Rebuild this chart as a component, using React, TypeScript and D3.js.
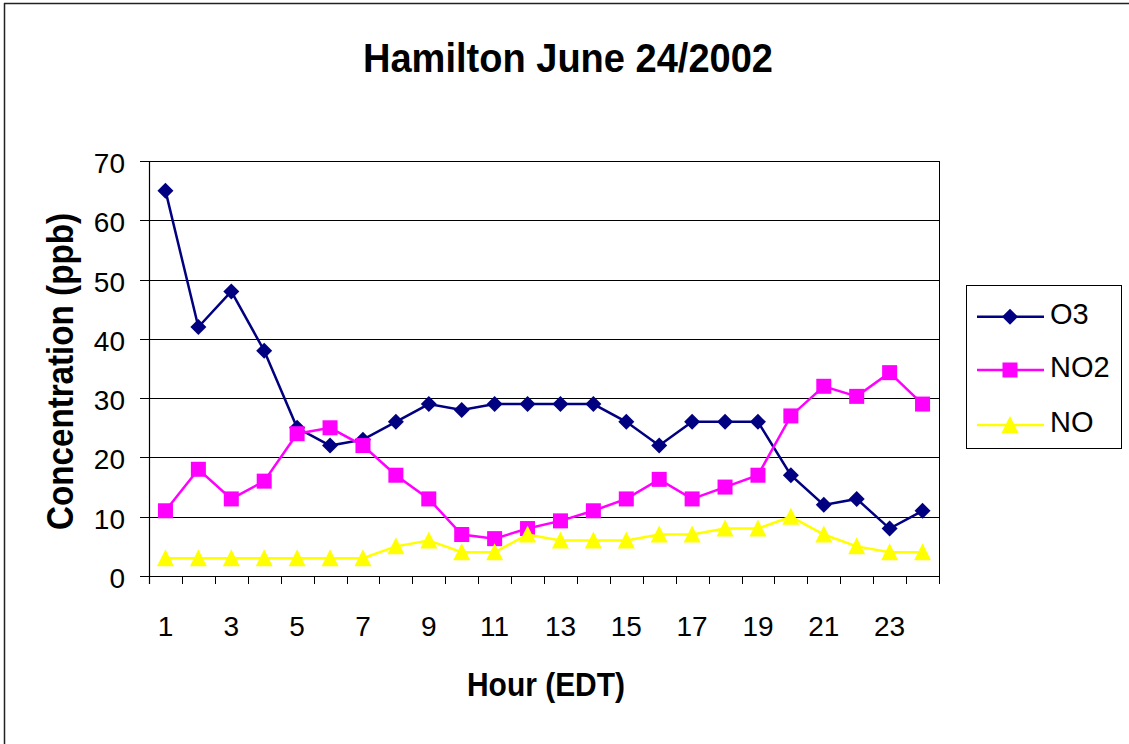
import React from "react";
import * as d3 from "d3";

const hours: number[] = Array.from({ length: 24 }, (_, i) => i + 1);
const o3: number[] = [65, 42, 48, 38, 25, 22, 23, 26, 29, 28, 29, 29, 29, 29, 26, 22, 26, 26, 26, 17, 12, 13, 8, 11];
const no2: number[] = [11, 18, 13, 16, 24, 25, 22, 17, 13, 7, 6.3, 8, 9.3, 11, 13, 16.3, 13, 15, 17, 27, 32, 30.3, 34.3, 29];
const no: number[] = [3, 3, 3, 3, 3, 3, 3, 5, 6, 4, 4, 7, 6, 6, 6, 7, 7, 8, 8, 10, 7, 5, 4, 4];
const yTicks: number[] = [0, 10, 20, 30, 40, 50, 60, 70];
const xTickLabels: number[] = [1, 3, 5, 7, 9, 11, 13, 15, 17, 19, 21, 23];

const seriesNames = ["O3", "NO2", "NO"];
const seriesColors = ["#000080", "#FF00FF", "#FFFF00"];

const W = 1129;
const H = 744;
const plot = { left: 149, right: 939, top: 161, bottom: 576 };

function Marker({ kind, x, y, color }: { kind: number; x: number; y: number; color: string }) {
  if (kind === 0) {
    const s = 8;
    return <path d={`M${x},${y - s}L${x + s},${y}L${x},${y + s}L${x - s},${y}Z`} fill={color} />;
  }
  if (kind === 1) {
    const s = 7.5;
    return <rect x={x - s} y={y - s} width={2 * s} height={2 * s} fill={color} />;
  }
  const w = 8.5;
  return <path d={`M${x},${y - 9}L${x + w},${y + 8}L${x - w},${y + 8}Z`} fill={color} />;
}

export default function App() {
  const x = d3.scaleBand<number>().domain(hours).range([plot.left, plot.right]).padding(0);
  const y = d3.scaleLinear().domain([0, 70]).range([plot.bottom, plot.top]);
  const cx = (h: number) => (x(h) as number) + x.bandwidth() / 2;
  const data = [o3, no2, no];
  const line = d3
    .line<[number, number]>()
    .x((d) => d[0])
    .y((d) => d[1]);

  const font = "'Liberation Sans', Arial, sans-serif";
  const r = (v: number) => Math.round(v) + 0.5;

  return (
    <svg
      width={W}
      height={H}
      style={{ position: "absolute", left: 0, top: 0, background: "#fff" }}
      fontFamily={font}
    >
      <rect x={0} y={0} width={W} height={H} fill="#fff" />
      {/* outer border */}
      <line x1={4.5} y1={3} x2={4.5} y2={H} stroke="#222" strokeWidth={1.5} />
      <line x1={4} y1={3.5} x2={W} y2={3.5} stroke="#222" strokeWidth={1.5} />

      {/* title */}
      <text x={568} y={72} textAnchor="middle" fontWeight="bold" fontSize={41} textLength={410} lengthAdjust="spacingAndGlyphs">
        Hamilton June 24/2002
      </text>

      {/* gridlines */}
      {yTicks.map((t) => (
        <line key={"g" + t} x1={plot.left} x2={plot.right} y1={r(y(t))} y2={r(y(t))} stroke="#000" strokeWidth={1} />
      ))}
      {/* plot border */}
      <line x1={r(plot.right)} x2={r(plot.right)} y1={plot.top} y2={plot.bottom + 8} stroke="#000" strokeWidth={1} />
      <line x1={r(plot.left)} x2={r(plot.left)} y1={plot.top} y2={plot.bottom + 8} stroke="#000" strokeWidth={1.2} />

      {/* y ticks & labels */}
      {yTicks.map((t) => (
        <g key={"yt" + t}>
          <line x1={plot.left - 9} x2={plot.left} y1={r(y(t))} y2={r(y(t))} stroke="#000" />
          <text x={125} y={y(t) + 12} textAnchor="end" fontSize={28}>
            {t}
          </text>
        </g>
      ))}

      {/* x ticks */}
      {hours.map((h) => (
        <line key={"xt" + h} x1={r(x(h) as number)} x2={r(x(h) as number)} y1={plot.bottom} y2={plot.bottom + 8} stroke="#000" />
      ))}
      {xTickLabels.map((h) => (
        <text key={"xl" + h} x={cx(h)} y={636} textAnchor="middle" fontSize={28}>
          {h}
        </text>
      ))}

      {/* axis titles */}
      <text x={546} y={696} textAnchor="middle" fontWeight="bold" fontSize={33} textLength={158} lengthAdjust="spacingAndGlyphs">
        Hour (EDT)
      </text>
      <text
        transform={`translate(73,371.5) rotate(-90)`}
        textAnchor="middle"
        fontWeight="bold"
        fontSize={37}
        textLength={317}
        lengthAdjust="spacingAndGlyphs"
      >
        Concentration (ppb)
      </text>

      {/* series */}
      {data.map((vals, si) => (
        <g key={"s" + si}>
          <path
            d={line(vals.map((v, i) => [cx(hours[i]), y(v)] as [number, number])) || ""}
            fill="none"
            stroke={seriesColors[si]}
            strokeWidth={2.5}
          />
          {vals.map((v, i) => (
            <Marker key={i} kind={si} x={cx(hours[i])} y={y(v)} color={seriesColors[si]} />
          ))}
        </g>
      ))}

      {/* legend */}
      <rect x={966.5} y={285.5} width={155} height={163} fill="#fff" stroke="#000" strokeWidth={1} />
      {seriesNames.map((name, i) => {
        const ly = [316.7, 370, 425][i];
        return (
          <g key={"lg" + i}>
            <line x1={977} x2={1044} y1={ly} y2={ly} stroke={seriesColors[i]} strokeWidth={2.5} />
            <Marker kind={i} x={1010} y={ly} color={seriesColors[i]} />
            <text x={1050} y={ly + 7} fontSize={29}>
              {name}
            </text>
          </g>
        );
      })}
    </svg>
  );
}
